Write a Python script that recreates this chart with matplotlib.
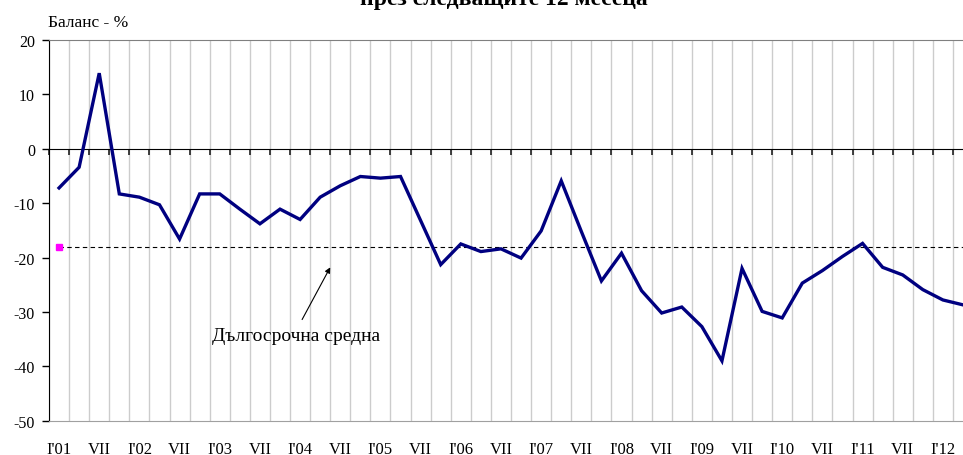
import numpy as np
import matplotlib
matplotlib.use('Agg')
import matplotlib.pyplot as plt
import matplotlib.ticker as ticker

plt.rcParams['font.family'] = ['Liberation Serif', 'DejaVu Serif']
plt.rcParams['axes.unicode_minus'] = False

# quarterly balance, Q1 2001 .. Q2 2012
balance = [-7.2, -3.4, 13.9, -8.3, -8.9, -10.3, -16.6, -8.3, -8.3, -11.1,
           -13.8, -11.1, -13.0, -8.9, -6.8, -5.1, -5.4, -5.1, -13.2, -21.3,
           -17.5, -18.9, -18.4, -20.1, -15.1, -5.9, -15.2, -24.3, -19.2, -26.1,
           -30.2, -29.1, -32.7, -39.0, -22.0, -29.9, -31.1, -24.7, -22.4, -19.8,
           -17.4, -21.8, -23.2, -25.9, -27.8, -28.7]
long_avg = -18.0
years = ['01', '02', '03', '04', '05', '06', '07', '08', '09', '10', '11', '12']
tick_labels = []
for y in years:
    tick_labels += ["I'" + y, 'VII']
tick_labels = tick_labels[:23]

n = len(balance)
x = np.arange(n)

fig = plt.figure(figsize=(9.63, 4.56), dpi=100)
ax = fig.add_axes([49/963, 1-421.7/456, 1-49/963, (421.7-41)/456])

# vertical grid at category boundaries
for b in np.arange(-0.5, n + 0.5, 1.0):
    ax.axvline(b, color='#cccccc', lw=1.0, zorder=0)

ax.plot(x, [long_avg]*n, color='black', lw=0.8, ls=(0, (4, 3)), zorder=2)
ax.plot([0], [long_avg], 's', color='#ff00ff', ms=4, zorder=3)
ax.plot(x, balance, color='#000080', lw=2.4, zorder=4, solid_joinstyle='miter')

ax.set_xlim(-0.5, n - 1)
ax.set_ylim(-50, 20)
ax.yaxis.set_major_locator(ticker.MultipleLocator(10))
ax.tick_params(axis='y', direction='out', length=5, width=1, labelsize=11.5, pad=5, color='black')

ax.set_xticks(np.arange(0, 2*len(tick_labels), 2))
ax.set_xticklabels(tick_labels)
ax.tick_params(axis='x', length=0, labelsize=12, pad=14.5)

ax.spines['left'].set_color('black')
ax.spines['top'].set_color('#808080')
ax.spines['bottom'].set_color('#a0a0a0')
ax.spines['right'].set_visible(False)

# zero axis with category tick marks
sec = ax.secondary_xaxis(50/70)
sec.set_xticks(np.arange(-0.5, n + 0.5, 1.0))
sec.tick_params(axis='x', direction='out', length=4, width=1.2, labelbottom=False,
                labeltop=False, color='#202020', top=False, bottom=True)
sec.spines['bottom'].set_color('#606060')
sec.spines['bottom'].set_linewidth(1.3)

ax.annotate('', xy=(13.5, -21.8), xytext=(12.1, -31.4), zorder=5,
            arrowprops=dict(arrowstyle='-|>', color='black', lw=0.8,
                            mutation_scale=8, shrinkA=0, shrinkB=0))
ax.text(7.6, -34.4, 'Дългосрочна средна', fontsize=14, va='center', ha='left', zorder=5)

fig.text(48/963, 1-27/456, 'Баланс - %', fontsize=12.5, ha='left', va='baseline')
fig.text(504/963, 1-5/456, 'през следващите 12 месеца', fontsize=17,
         fontweight='bold', ha='center', va='baseline')

fig.savefig('out.png', dpi=100)
